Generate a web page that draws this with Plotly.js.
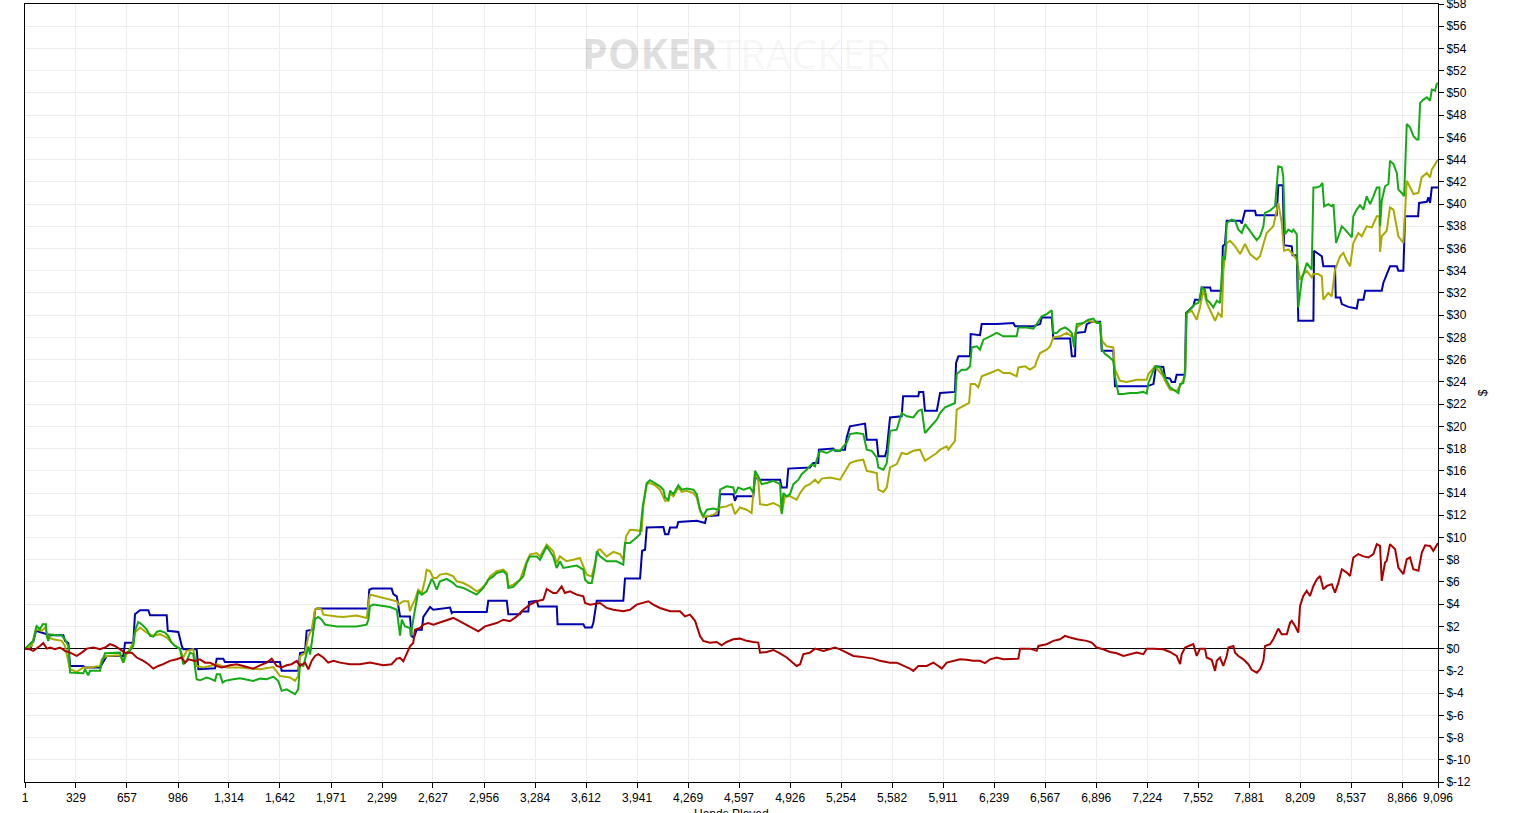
<!DOCTYPE html>
<html>
<head>
<meta charset="utf-8">
<script src="https://cdn.plot.ly/plotly-3.0.1.min.js"></script>
<style>html,body{margin:0;padding:0;background:#fff;}#chart{width:1513px;height:813px;}</style>
</head>
<body>
<div id="chart"></div>
<script>
// X axis tick labels (hands played)
const xTickVals = [1,329,657,986,1314,1642,1971,2299,2627,2956,3284,3612,3941,4269,4597,4926,5254,5582,5911,6239,6567,6896,7224,7552,7881,8209,8537,8866,9096];
const xTickText = ["1","329","657","986","1,314","1,642","1,971","2,299","2,627","2,956","3,284","3,612","3,941","4,269","4,597","4,926","5,254","5,582","5,911","6,239","6,567","6,896","7,224","7,552","7,881","8,209","8,537","8,866","9,096"];
// Y axis tick labels (dollars)
const yTickVals = [-12,-10,-8,-6,-4,-2,0,2,4,6,8,10,12,14,16,18,20,22,24,26,28,30,32,34,36,38,40,42,44,46,48,50,52,54,56,58];
const yTickText = ["$-12","$-10","$-8","$-6","$-4","$-2","$0","$2","$4","$6","$8","$10","$12","$14","$16","$18","$20","$22","$24","$26","$28","$30","$32","$34","$36","$38","$40","$42","$44","$46","$48","$50","$52","$54","$56","$58"];

// Blue series
const blueHands = [1,38,44,54,72,141,162,248,258,280,291,376,387,484,503,527,634,645,698,709,741,795,806,913,920,988,1010,1020,1106,1117,1224,1235,1277,1288,1642,1653,1760,1771,1803,1814,1855,1868,1880,2209,2217,2235,2361,2372,2394,2415,2479,2490,2505,2522,2555,2565,2608,2629,2737,2748,2758,2973,2983,3102,3112,3187,3198,3241,3245,3295,3305,3424,3429,3595,3606,3649,3659,3681,3852,3863,3960,3973,3992,4003,4110,4121,4142,4153,4196,4206,4325,4378,4388,4464,4475,4560,4571,4582,4689,4700,4721,4861,4872,4904,4914,5054,5075,5107,5111,5204,5215,5247,5258,5279,5290,5311,5408,5419,5483,5494,5537,5548,5569,5644,5653,5751,5756,5783,5794,5870,5878,5891,5987,5994,6009,6084,6088,6148,6159,6256,6363,6374,6491,6535,6545,6610,6620,6728,6739,6760,6764,6824,6835,6867,6921,6932,7006,7017,7221,7264,7281,7328,7339,7371,7382,7403,7414,7468,7474,7521,7532,7564,7575,7629,7635,7704,7711,7725,7736,7822,7833,7854,7918,7925,8058,8068,8097,8105,8155,8160,8187,8197,8294,8298,8348,8358,8433,8438,8466,8477,8519,8573,8583,8616,8627,8734,8744,8777,8787,8831,8841,8873,8884,8968,8974,9024,9034,9045,9056,9096];
const blueWon = [0,0,0.54,0.6,1.6,1.3,1.2,1.2,0.7,0.5,-1.56,-1.56,-1.7,-1.7,-1.2,-0.66,-0.66,0.54,0.54,3.1,3.45,3.45,3.0,3.0,1.6,1.5,0.24,-0.06,-0.06,-1.86,-1.77,-0.9,-0.9,-1.2,-1.2,-2.0,-2.0,-0.4,-0.3,1.6,1.7,3.5,3.6,3.6,5.3,5.4,5.4,4.9,4.7,2.9,2.9,1.1,1.0,1.7,1.7,2.85,3.75,3.5,3.7,3.2,3.3,3.3,4.3,4.3,3.1,3.1,3.35,3.35,4.2,4.3,3.8,3.8,2.2,2.2,1.9,1.9,2.3,4.3,4.3,6.3,6.3,8.8,8.9,10.9,10.95,10.3,10.3,10.9,10.9,11.4,11.5,11.3,11.9,12.0,13.9,13.9,13.3,13.7,13.7,15.5,15.2,15.2,14.5,14.5,16.2,16.3,16.7,16.7,17.9,18.0,17.8,17.8,17.9,17.9,19.0,20.0,20.25,18.8,18.8,17.3,17.3,17.9,20.8,20.9,22.7,22.7,23.1,23.1,21.4,21.4,22.0,23.0,23.1,25.7,26.3,26.3,28.3,28.2,29.2,29.2,29.3,29.0,29.0,29.2,29.8,29.8,27.9,27.9,26.3,26.3,28.4,28.5,29.2,29.4,29.4,26.8,26.8,23.6,23.6,23.8,25.4,25.35,24.4,24.3,24.0,24.0,24.65,24.65,30.2,30.8,31.4,31.4,32.5,32.5,32.2,32.2,36.2,36.4,38.5,38.5,38.25,39.4,39.4,39.0,39.0,41.7,41.7,36.3,36.2,35.4,35.4,29.5,29.5,35.8,35.3,34.4,34.4,31.6,31.6,31.0,30.75,30.6,31.4,31.4,32.2,32.2,32.9,34.0,34.4,34.4,34.0,34.0,38.9,38.9,40.1,40.2,40.6,40.1,41.5,41.5];

// Olive series
const oliveHands = [1,44,72,108,130,151,183,237,258,291,334,376,419,484,495,527,612,634,655,698,709,741,784,827,870,913,956,999,1020,1042,1084,1106,1149,1235,1299,1385,1514,1599,1642,1707,1739,1760,1771,1803,1825,1846,1868,1889,1911,1921,2007,2050,2136,2200,2221,2264,2307,2350,2394,2404,2436,2468,2479,2490,2511,2532,2555,2576,2586,2608,2629,2651,2672,2715,2758,2780,2822,2865,2908,2930,2973,2994,3037,3080,3102,3112,3144,3187,3230,3251,3294,3316,3359,3401,3423,3444,3487,3530,3573,3595,3616,3649,3670,3691,3702,3745,3788,3831,3852,3870,3895,3949,3970,3981,4003,4024,4056,4088,4121,4142,4153,4174,4206,4228,4260,4303,4325,4346,4367,4389,4442,4475,4517,4550,4571,4603,4646,4678,4700,4721,4732,4775,4818,4861,4872,4893,4925,4968,4990,5022,5054,5086,5107,5129,5183,5247,5290,5311,5354,5397,5419,5451,5483,5494,5526,5548,5569,5612,5644,5677,5719,5762,5794,5826,5870,5891,5934,5944,5987,5998,6041,6078,6088,6116,6137,6159,6213,6266,6298,6341,6384,6395,6438,6470,6502,6513,6535,6577,6599,6620,6663,6706,6739,6754,6771,6835,6921,6932,6964,7006,7017,7049,7092,7157,7221,7232,7275,7328,7339,7371,7414,7436,7468,7478,7511,7543,7564,7586,7607,7629,7661,7682,7704,7715,7736,7758,7790,7822,7854,7886,7929,7950,7972,7993,8036,8068,8090,8105,8133,8155,8187,8208,8229,8251,8283,8294,8326,8348,8358,8390,8412,8433,8466,8487,8509,8530,8551,8583,8605,8637,8670,8702,8719,8723,8734,8766,8787,8809,8841,8873,8895,8916,8938,8970,8991,9024,9045,9056,9088,9096];
const oliveWon = [0,0.24,1.74,1.6,1.9,1.0,0.84,0.7,0.24,-1.86,-2.1,-1.7,-1.7,-1.56,-0.96,-0.66,-0.6,-1.26,-0.5,0.54,1.44,1.9,1.44,1.14,1.3,1.0,0.4,-0.06,-0.8,-0.2,-0.06,-1.56,-1.7,-1.4,-1.7,-1.7,-1.86,-1.65,-2.46,-2.6,-2.9,-2.46,-0.7,-0.4,1.1,1.7,3.5,3.66,3.5,3.06,2.9,2.85,2.97,2.76,4.86,4.7,4.56,4.4,4.26,3.96,4.26,4.26,3.36,3.8,4.4,5.3,5.0,6.2,7.1,6.96,6.36,6.36,6.66,6.75,6.5,6.06,5.9,5.6,5.16,5.3,5.9,6.5,6.96,7.1,6.8,5.6,5.76,6.2,7.86,8.46,8.6,8.3,9.36,8.76,7.7,8.3,7.86,8.0,8.16,7.4,6.66,6.5,7.7,8.9,8.94,8.3,8.7,8.5,8.0,10.1,10.7,10.6,10.6,12.8,14.8,14.9,14.7,14.3,13.3,13.3,14.0,13.7,14.5,14.1,14.2,14.0,13.6,12.4,11.8,11.9,12.1,12.7,12.8,13.0,12.1,12.7,12.5,12.2,15.8,15.2,13.0,12.9,13.1,12.8,12.2,13.7,13.7,13.4,14.0,14.6,14.8,15.2,14.9,15.3,15.4,15.2,16.3,16.7,16.9,17.0,16.0,15.9,15.8,14.3,14.1,14.5,16.3,16.6,17.6,17.5,17.8,17.9,16.9,17.2,17.6,17.9,18.2,17.9,18.7,21.5,21.8,22.1,23.8,23.8,23.5,24.5,24.8,25.1,24.8,24.8,24.5,25.3,25.4,25.1,25.4,25.9,26.6,26.9,27.2,28.0,28.1,28.4,28.1,27.9,28.9,29.5,29.3,27.7,27.2,27.1,25.1,24.1,24.0,24.2,24.2,24.7,25.4,24.5,24.1,23.3,23.2,23.6,24.5,30.2,30.4,29.6,30.7,32.3,31.1,30.5,29.5,30.2,29.8,34.1,36.5,36.7,36.2,35.5,36.4,35.5,35.0,35.3,36.5,37.4,38.0,40.1,38.3,35.8,35.9,35.6,35.0,33.2,33.7,34.0,33.4,33.7,33.7,33.5,31.4,32.0,31.7,34.1,35.3,35.6,34.9,34.4,36.5,37.4,37.1,38.0,37.9,38.9,38.9,35.7,37.1,37.6,39.7,39.5,37.1,36.5,42.1,41.5,40.9,41.0,42.4,42.8,42.4,43.1,43.9,44.0];

// Green series
const greenHands = [1,44,54,72,76,97,115,136,141,151,162,205,237,258,280,291,334,376,387,408,419,484,495,516,612,623,634,645,677,698,709,730,752,784,806,827,849,870,902,923,945,966,999,1010,1020,1042,1063,1084,1095,1106,1127,1170,1192,1224,1235,1256,1273,1288,1342,1385,1470,1514,1557,1599,1631,1653,1685,1728,1739,1760,1771,1792,1810,1825,1836,1857,1868,1889,1911,1932,2007,2136,2200,2211,2221,2243,2307,2350,2394,2404,2415,2426,2447,2479,2484,2500,2511,2522,2532,2555,2586,2608,2619,2629,2651,2672,2715,2758,2780,2822,2865,2908,2930,2951,2983,3015,3037,3080,3102,3112,3144,3166,3187,3208,3230,3251,3294,3316,3348,3359,3380,3401,3423,3444,3466,3509,3552,3595,3606,3627,3649,3670,3681,3702,3745,3809,3852,3863,3895,3938,3960,3977,4003,4024,4056,4088,4110,4121,4142,4153,4174,4206,4228,4260,4303,4325,4346,4367,4389,4431,4464,4475,4517,4560,4571,4592,4625,4668,4689,4700,4721,4743,4775,4818,4861,4872,4882,4904,4925,4947,4979,5000,5032,5065,5086,5097,5118,5161,5204,5247,5268,5290,5311,5354,5397,5419,5451,5483,5494,5526,5548,5569,5612,5644,5677,5719,5751,5773,5794,5826,5848,5870,5891,5923,5955,5987,5998,6030,6062,6084,6095,6127,6148,6170,6213,6256,6298,6384,6395,6449,6491,6513,6545,6577,6610,6620,6642,6663,6695,6717,6739,6754,6771,6813,6846,6878,6899,6921,6932,6953,6974,7006,7017,7039,7071,7114,7157,7200,7221,7232,7275,7307,7328,7350,7371,7403,7425,7436,7457,7468,7478,7511,7532,7553,7564,7575,7596,7607,7629,7650,7672,7693,7711,7725,7736,7768,7790,7811,7833,7854,7875,7907,7929,7950,7972,7982,8014,8047,8068,8090,8100,8111,8133,8155,8165,8187,8197,8219,8251,8272,8283,8294,8315,8337,8352,8363,8390,8412,8423,8440,8455,8477,8498,8519,8541,8551,8573,8594,8616,8637,8659,8680,8702,8719,8723,8734,8755,8777,8787,8809,8831,8841,8863,8878,8895,8916,8938,8959,8970,8981,9002,9024,9045,9056,9077,9088,9096];
const greenWon = [0,0.54,0.7,1.9,2.04,1.74,2.19,2.19,1.14,0.69,1.29,1.2,1.2,0.84,0.24,-2.16,-2.22,-2.22,-1.86,-2.4,-2.0,-2.0,-1.26,-0.42,-0.36,-0.8,-1.26,-0.5,-0.2,0.24,1.6,2.4,2.19,1.74,1.14,1.08,1.5,1.6,1.44,1.14,0.54,0.24,0,-0.8,-1.4,-1.1,-0.36,-0.5,-1.56,-2.76,-2.85,-2.6,-2.7,-2.9,-2.3,-2.3,-3.06,-2.9,-2.76,-2.67,-2.9,-2.7,-2.76,-2.52,-2.9,-3.8,-3.66,-3.96,-4.1,-3.66,-1.3,-1.6,-0.54,0.2,-0.54,1.7,2.67,2.85,2.6,2.16,2.0,2.0,2.16,2.6,3.8,3.96,3.8,3.75,3.5,2.6,1.17,2.6,2.0,1.86,1.1,2.6,3.5,4.7,5.16,4.86,5.16,5.9,6.27,6.06,5.3,6.06,6.27,5.9,5.6,5.46,5.16,4.86,5.16,5.46,6.2,6.5,6.8,6.96,6.66,5.46,5.55,5.9,6.2,6.5,7.7,8.3,8.3,8.0,8.9,9.2,8.76,8.3,7.26,7.86,7.26,7.35,7.47,7.1,6.2,5.9,5.9,7.4,8.76,8.3,7.86,7.86,7.56,9.5,9.5,10.0,10.3,12.8,14.9,15.15,14.9,14.6,14.3,13.6,13.4,14.2,13.9,14.7,14.3,14.4,14.3,13.9,12.5,11.9,12.5,12.6,12.5,14.3,14.6,14.5,13.9,14.5,14.3,14.5,14.0,16.0,15.5,14.8,14.9,15.1,14.8,12.1,14.0,13.7,13.9,14.8,15.2,15.7,16.1,16.6,16.4,17.0,17.8,17.6,17.9,17.8,18.2,18.5,19.3,19.4,19.3,17.9,17.8,17.2,16.3,16.1,16.7,19.6,19.7,21.2,20.9,20.8,21.4,21.5,19.4,19.9,20.3,20.6,21.2,21.7,21.9,22.1,24.7,25.1,25.1,25.4,27.1,27.2,26.9,27.8,28.1,28.4,28.1,28.1,28.9,28.9,28.8,29.2,29.9,30.1,30.45,28.4,28.4,28.7,28.9,28.7,28.4,27.1,29.2,29.3,29.6,29.7,29.3,29.3,26.9,26.5,26.3,25.9,24.5,22.9,22.9,23.0,23.0,23.1,22.95,23.9,25.4,25.3,24.7,24.1,23.5,23.2,23.0,23.8,23.9,25.1,30.2,30.7,31.0,31.1,31.6,32.5,32.3,31.4,31.1,30.7,31.3,31.1,35.3,35.0,38.3,38.6,38.5,37.7,37.4,38.2,37.8,37.1,36.75,37.1,38.0,39.2,39.4,39.8,43.4,43.3,42.5,37.3,37.7,37.5,37.7,37.3,30.7,33.2,34.7,34.3,34.1,41.5,41.5,41.6,41.9,39.8,40.0,39.8,40.0,36.5,37.1,38.0,37.7,37.4,37.0,38.9,39.5,39.9,39.5,40.7,40.0,40.7,41.5,41.5,38.0,40.3,41.6,41.8,43.9,43.6,42.8,41.3,41.0,40.7,47.2,46.9,46.1,45.8,45.8,49.1,49.4,49.6,49.3,50.3,50.2,50.8,50.9];

// Red series
const redHands = [1,33,54,76,97,119,141,162,194,226,258,291,334,366,398,441,484,516,548,580,612,645,688,720,763,795,827,859,891,934,977,1010,1031,1052,1095,1127,1160,1192,1235,1267,1321,1364,1406,1470,1514,1557,1589,1621,1653,1685,1717,1750,1771,1803,1825,1846,1868,1889,1921,1953,1986,2029,2093,2157,2221,2264,2307,2361,2394,2415,2436,2479,2500,2511,2543,2565,2597,2629,2661,2694,2758,2801,2865,2919,2962,3037,3080,3123,3166,3208,3251,3294,3337,3359,3401,3423,3455,3476,3509,3552,3595,3606,3638,3702,3745,3788,3852,3895,3938,3981,4013,4045,4088,4153,4217,4249,4281,4314,4346,4367,4410,4453,4485,4517,4560,4603,4646,4689,4721,4732,4775,4818,4861,4904,4947,4968,4990,5011,5054,5086,5140,5183,5215,5247,5290,5333,5376,5419,5461,5504,5569,5612,5654,5697,5719,5751,5805,5848,5880,5902,5934,5977,6020,6062,6105,6148,6180,6213,6256,6298,6363,6395,6406,6470,6513,6524,6577,6620,6663,6695,6728,6771,6835,6867,6899,6942,6985,7028,7071,7114,7157,7200,7221,7264,7328,7371,7414,7436,7446,7468,7500,7521,7543,7564,7596,7607,7639,7661,7672,7693,7714,7736,7747,7779,7790,7811,7843,7875,7897,7930,7951,7972,7983,8015,8036,8068,8090,8123,8144,8155,8176,8197,8208,8229,8251,8272,8294,8316,8337,8358,8380,8412,8433,8455,8477,8509,8530,8551,8583,8616,8648,8680,8702,8723,8734,8755,8766,8787,8820,8841,8873,8895,8916,8937,8970,8992,9013,9045,9066,9088,9096];
const redWon = [0,-0.06,-0.2,0,0.24,0.5,0,0.1,-0.06,0.1,-0.2,-0.36,-0.66,-0.36,0,0.1,-0.06,0.1,0.4,0.24,-0.06,-0.36,-0.36,-0.8,-1.1,-1.4,-1.8,-1.56,-1.4,-1.1,-0.96,-0.8,-1.26,-0.96,-1.1,-0.96,-1.26,-1.26,-1.56,-1.7,-1.5,-1.4,-1.56,-1.8,-1.5,-1.26,-0.9,-1.56,-1.7,-1.5,-1.4,-1.1,-1.56,-1.26,-1.86,-1.1,-0.66,-0.5,-0.8,-1.26,-1.1,-1.26,-1.4,-1.4,-1.26,-1.4,-1.5,-1.4,-0.9,-0.84,-1.14,0.2,0.5,1.7,1.86,2.16,2.3,2.16,2.3,2.46,2.76,2.46,2.0,1.56,2.0,2.3,2.6,2.46,2.9,3.5,3.96,4.26,4.4,5.37,5.0,5.0,5.6,5.0,5.16,4.86,4.7,4.1,3.96,4.1,3.66,3.5,3.36,3.5,3.96,4.1,4.26,3.96,3.66,3.36,3.36,2.9,3.06,2.5,1.14,0.7,0.54,0.6,0.3,0.6,0.84,0.9,0.7,0.6,0.54,-0.36,-0.3,-0.12,-0.42,-0.8,-1.26,-1.56,-1.4,-0.5,-0.36,0,-0.2,-0.06,0.1,-0.06,-0.36,-0.66,-0.72,-0.8,-0.9,-1.1,-1.26,-1.26,-1.5,-1.8,-2.0,-1.56,-1.56,-1.26,-1.56,-1.8,-1.26,-1.1,-0.96,-1.0,-1.1,-1.1,-1.3,-0.96,-0.8,-0.96,-0.96,-0.9,0,0,-0.2,0.24,0.4,0.7,0.84,1.14,1.0,0.84,0.7,0.54,0.1,-0.06,-0.3,-0.42,-0.66,-0.5,-0.36,-0.5,0,0,-0.06,-0.3,-0.66,-1.4,-0.5,0.1,0.24,0.4,-0.66,0,0,-0.8,-1.0,-2.0,-1.1,-0.8,-1.56,-0.66,0.1,0.24,-0.36,-0.66,-0.96,-1.4,-1.9,-2.16,-1.86,-1.1,0.24,0.4,0.84,1.8,1.3,1.3,2.34,2.5,2.04,1.44,3.84,4.74,5.2,4.74,5.64,6.24,6.54,5.34,5.64,5.8,5.04,5.94,7.14,6.84,6.54,8.2,8.5,8.3,8.2,8.5,9.4,9.24,6.1,7.74,7.9,9.4,8.94,7.3,6.7,8.04,8.2,7.14,7.0,8.64,9.3,9.24,8.8,9.4,9.5];

function series(x, y, color) {
  return {x: x, y: y, type: 'scatter', mode: 'lines', hoverinfo: 'skip',
          line: {color: color, width: 2}};
}

const data = [
  series(blueHands, blueWon, '#0000b0'),
  series(oliveHands, oliveWon, '#aaaa00'),
  series(greenHands, greenWon, '#14aa14'),
  series(redHands, redWon, '#aa0000')
];

const layout = {
  width: 1513, height: 813,
  margin: {l: 25, r: 75, t: 4, b: 31, pad: 0},
  paper_bgcolor: '#ffffff', plot_bgcolor: '#ffffff',
  showlegend: false,
  font: {family: '"Liberation Sans", Arial, sans-serif', size: 12, color: '#000'},
  xaxis: {
    range: [1, 9096], tickmode: 'array', tickvals: xTickVals, ticktext: xTickText,
    tickangle: 0, showgrid: true, gridcolor: '#ececec', gridwidth: 1,
    showline: true, mirror: true, linecolor: '#000', linewidth: 1,
    ticks: 'outside', ticklen: 5, tickcolor: '#000', zeroline: false,
    tickfont: {size: 12, color: '#000'}, automargin: false, ticklabeloverflow: 'allow'
  },
  yaxis: {
    side: 'right', range: [-12, 58], tickmode: 'array', tickvals: yTickVals, ticktext: yTickText,
    showgrid: true, gridcolor: '#ececec', gridwidth: 1,
    showline: true, mirror: true, linecolor: '#000', linewidth: 1,
    ticks: 'outside', ticklen: 5, tickcolor: '#000',
    zeroline: true, zerolinecolor: '#000', zerolinewidth: 1,
    tickfont: {size: 12, color: '#000'}, automargin: false, ticklabeloverflow: 'allow'
  },
  annotations: [
    {xref: 'paper', yref: 'paper', x: 0.503, y: 0.937, xanchor: 'center', yanchor: 'middle', showarrow: false,
     text: '<b><span style="color:rgba(0,0,0,0.12)">POKER</span></b><span style="color:rgba(0,0,0,0.05)">TRACKER</span>',
     font: {family: '"Open Sans", "Noto Sans", sans-serif', size: 41}},
    {xref: 'paper', yref: 'paper', x: 0.5, y: -0.0296, xanchor: 'center', yanchor: 'top', showarrow: false,
     text: 'Hands Played', font: {size: 12, color: '#000'}},
    {xref: 'paper', yref: 'paper', x: 1.0318, y: 0.501, xanchor: 'center', yanchor: 'middle', showarrow: false,
     text: '$', textangle: -90, font: {size: 12, color: '#000'}}
  ]
};

Plotly.newPlot('chart', data, layout, {displayModeBar: false, staticPlot: true});
</script>
</body>
</html>
